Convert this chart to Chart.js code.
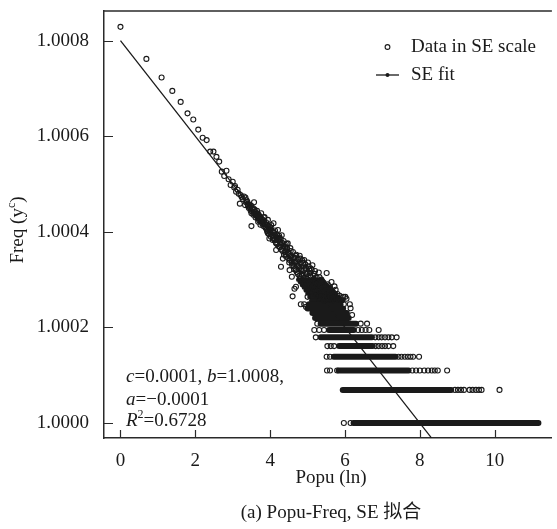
<!DOCTYPE html>
<html>
<head>
<meta charset="utf-8">
<script src="https://cdn.jsdelivr.net/npm/chart.js@4.4.0/dist/chart.umd.min.js"></script>
<style>
  html, body { margin: 0; padding: 0; background: #fff; }
</style>
</head>
<body>
<canvas id="chart" width="557" height="529"></canvas>
<script>
// 刻度
const xTicks = [0, 2, 4, 6, 8, 10];
const yTicks = [1.0000, 1.0002, 1.0004, 1.0006, 1.0008];

// 上部稀疏点 (x = ln)
const topX = [0, 0.693, 1.099, 1.386, 1.609, 1.792, 1.946, 2.079, 2.197, 2.303, 2.398, 2.485, 2.565, 2.639, 2.708, 2.773, 2.833, 2.890, 2.944];
const topY = [1.000829, 1.000762, 1.000723, 1.000695, 1.000672, 1.000648, 1.000635, 1.000614, 1.000597, 1.000592, 1.000568, 1.000568, 1.000557, 1.000547, 1.000526, 1.000517, 1.000528, 1.000510, 1.000498];

// 中部点云 (外缘)
const cloudX = [3.00,3.04,3.06,3.09,3.13,3.16,3.19,3.21,3.24,3.27,
  3.30,3.33,3.34,3.37,3.40,3.43,3.46,3.48,3.50,3.50,
  3.53,3.55,3.57,3.59,3.61,3.63,3.65,3.68,3.70,3.72,
  3.74,3.76,3.78,3.81,3.83,3.85,3.87,3.89,3.91,3.94,
  3.94,3.96,3.98,4.01,4.03,4.05,4.07,4.07,4.09,4.11,
  4.13,4.16,4.16,4.18,4.20,4.21,4.23,4.25,4.27,4.29,
  4.29,4.31,4.33,4.34,4.36,4.38,4.40,4.42,4.44,4.46,
  4.47,4.49,4.50,4.52,4.52,4.54,4.56,4.58,4.58,4.60,
  4.61,4.63,4.65,4.65,4.67,4.69,4.69,4.70,4.72,4.74,
  4.75,4.77,4.79,4.80,4.82,4.82,4.84,4.86,4.87,4.88,
  4.90,4.91,4.91,4.93,4.94,4.96,4.96,4.97,4.99,5.00,
  5.01,5.02,5.04,5.05,5.07,5.09,5.09,5.10,5.12,5.13,
  5.14,5.16,5.18,5.18,5.20,5.22,5.24,5.26,5.26,5.28,
  5.30,5.31,5.33,5.35,5.37,5.38,5.40,5.42,5.44,5.45,
  5.47,5.49,5.51,5.52,5.54,5.56,5.58,5.60,5.62,5.64,
  5.66,5.68,5.70,5.72,5.75,5.77,5.80,5.83,5.86,5.90,
  5.93,5.96,6.01,6.04,6.15,6.19];
const cloudY = [1.000505,1.000493,1.000496,1.000484,1.000488,1.000480,1.000459,1.000477,1.000473,1.000469,
  1.000474,1.000456,1.000472,1.000466,1.000458,1.000450,1.000452,1.000444,1.000439,1.000412,
  1.000447,1.000436,1.000462,1.000442,1.000430,1.000435,1.000444,1.000421,1.000433,1.000427,
  1.000415,1.000439,1.000422,1.000418,1.000430,1.000431,1.000410,1.000420,1.000405,1.000425,
  1.000397,1.000412,1.000386,1.000408,1.000414,1.000393,1.000400,1.000383,1.000418,1.000390,
  1.000403,1.000376,1.000362,1.000395,1.000384,1.000404,1.000370,1.000388,1.000379,1.000372,
  1.000327,1.000393,1.000360,1.000344,1.000381,1.000358,1.000368,1.000352,1.000375,1.000362,
  1.000376,1.000345,1.000356,1.000341,1.000320,1.000366,1.000350,1.000306,1.000335,1.000265,
  1.000358,1.000328,1.000281,1.000346,1.000338,1.000320,1.000285,1.000352,1.000330,1.000312,
  1.000342,1.000324,1.000350,1.000305,1.000302,1.000335,1.000318,1.000340,1.000296,1.000328,
  1.000310,1.000341,1.000320,1.000292,1.000332,1.000288,1.000243,1.000315,1.000302,1.000264,
  1.000336,1.000280,1.000322,1.000295,1.000308,1.000323,1.000306,1.000275,1.000290,1.000330,
  1.000285,1.000300,1.000285,1.000312,1.000270,1.000295,1.000305,1.000267,1.000280,1.000292,
  1.000315,1.000260,1.000275,1.000288,1.000300,1.000265,1.000278,1.000293,1.000257,1.000270,
  1.000284,1.000262,1.000314,1.000277,1.000290,1.000258,1.000270,1.000283,1.000264,1.000295,
  1.000257,1.000274,1.000262,1.000286,1.000279,1.000260,1.000270,1.000258,1.000266,1.000257,
  1.000257,1.000264,1.000264,1.000260,1.000240,1.000226];

// 点云内部 (密集)
const denseX = [3.36,3.39,3.41,3.44,3.47,3.49,3.52,3.54,3.56,3.58,
  3.60,3.62,3.64,3.66,3.67,3.69,3.71,3.73,3.75,3.77,
  3.79,3.80,3.82,3.84,3.86,3.88,3.90,3.92,3.93,3.95,
  3.97,3.99,4.00,4.02,4.04,4.06,4.08,4.10,4.12,4.14,
  4.15,4.17,4.19,4.22,4.24,4.26,4.28,4.30,4.32,4.35,
  4.37,4.39,4.41,4.43,4.45,4.48,4.51,4.53,4.55,4.57,
  4.59,4.62,4.64,4.66,4.68,4.71,4.73,4.76,4.78,4.81,
  4.83,4.85,4.89,4.92,4.95,4.98,5.03,5.06,5.11,5.15,
  5.20,5.25,5.32,5.40];
const denseY = [1.000462,1.000463,1.000455,1.000457,1.000449,1.000455,1.000443,1.000450,1.000440,1.000447,
  1.000437,1.000441,1.000433,1.000438,1.000428,1.000436,1.000424,1.000432,1.000422,1.000428,
  1.000417,1.000425,1.000412,1.000422,1.000416,1.000408,1.000415,1.000401,1.000412,1.000404,
  1.000395,1.000406,1.000398,1.000390,1.000402,1.000394,1.000387,1.000398,1.000383,1.000392,
  1.000378,1.000388,1.000374,1.000382,1.000392,1.000368,1.000385,1.000363,1.000377,1.000370,
  1.000352,1.000374,1.000360,1.000348,1.000367,1.000355,1.000336,1.000349,1.000360,1.000340,
  1.000330,1.000347,1.000322,1.000335,1.000350,1.000316,1.000338,1.000328,1.000308,1.000344,
  1.000322,1.000310,1.000335,1.000304,1.000325,1.000312,1.000328,1.000314,1.000320,1.000308,
  1.000318,1.000298,1.000305,1.000296];

// 低频水平带 (密集段), y = freq^c
const bandY = [1.0000000, 1.0000693, 1.0001099, 1.0001386, 1.0001609, 1.0001792, 1.0001946, 1.0002079, 1.0002197, 1.0002303, 1.0002398, 1.0002485,
  1.0002565, 1.0002639, 1.0002708, 1.0002773, 1.0002833, 1.0002890, 1.0002944, 1.0002996];
const bandStart = [6.23, 5.94, 5.83, 5.70, 5.84, 5.35, 5.57, 5.35, 5.20, 5.13, 5.00, 5.04,
  5.10, 5.05, 5.00, 4.95, 4.90, 4.85, 4.80, 4.75];
const bandEnd = [11.17, 8.84, 7.70, 7.35, 6.74, 6.72, 6.24, 6.30, 6.10, 6.05, 5.95, 5.88,
  5.92, 5.84, 5.76, 5.68, 5.60, 5.52, 5.45, 5.38];
const bandWidth = [6, 6, 6, 6, 6, 6, 6, 6, 6, 6, 6, 6, 4.5, 4.5, 4.5, 4.5, 4.5, 4.5, 4.5, 4.5];

// 带两端的零散点
const looseX = [4.82,4.91,5.97,6.13,
  5.26,6.42,6.59,
  5.18,5.31,5.44,6.35,6.45,6.55,6.65,6.90,
  5.22,6.81,6.90,6.98,7.07,7.16,7.25,7.38,
  5.53,5.62,5.71,6.82,6.90,6.99,7.07,7.16,7.29,
  5.51,5.60,7.43,7.51,7.60,7.68,7.75,7.82,7.98,
  5.52,5.60,5.79,7.80,7.90,8.00,8.12,8.22,8.32,8.40,8.48,8.73,
  8.94,9.02,9.10,9.18,9.33,9.41,9.50,9.58,9.65,10.13,
  5.97,6.15];
const looseY = [1.0002485,1.0002485,1.0002485,1.0002485,
  1.0002079,1.0002079,1.0002079,
  1.0001946,1.0001946,1.0001946,1.0001946,1.0001946,1.0001946,1.0001946,1.0001946,
  1.0001792,1.0001792,1.0001792,1.0001792,1.0001792,1.0001792,1.0001792,1.0001792,
  1.0001609,1.0001609,1.0001609,1.0001609,1.0001609,1.0001609,1.0001609,1.0001609,1.0001609,
  1.0001386,1.0001386,1.0001386,1.0001386,1.0001386,1.0001386,1.0001386,1.0001386,1.0001386,
  1.0001099,1.0001099,1.0001099,1.0001099,1.0001099,1.0001099,1.0001099,1.0001099,1.0001099,1.0001099,1.0001099,1.0001099,
  1.0000693,1.0000693,1.0000693,1.0000693,1.0000693,1.0000693,1.0000693,1.0000693,1.0000693,1.0000693,
  1.0000000,1.0000000];

// SE 拟合线
const fitX = [0, 8.31];
const fitY = [1.0008, 0.999969];

const serif = '"Liberation Serif", "Times New Roman", serif';
const ink = '#1a1a1a';
const axisColor = '#2a2a2a';

Chart.defaults.font.family = serif;
Chart.defaults.font.size = 19;
Chart.defaults.color = ink;

const toPoints = (xs, ys) => xs.map((v, i) => ({ x: v, y: ys[i] }));

const pointStyle = {
  type: 'scatter',
  pointRadius: 2.5,
  pointBorderWidth: 1.1,
  pointBorderColor: ink,
  pointBackgroundColor: 'rgba(0,0,0,0)',
  showLine: false
};

const datasets = [
  {
    type: 'line',
    label: 'SE fit',
    data: toPoints(fitX, fitY),
    borderColor: ink,
    borderWidth: 1.3,
    pointRadius: 0,
    fill: false,
    tension: 0
  },
  Object.assign({ label: 'Data in SE scale', data: toPoints(topX, topY) }, pointStyle),
  Object.assign({ label: 'cloud', data: toPoints(cloudX, cloudY) }, pointStyle),
  Object.assign({ label: 'dense', data: toPoints(denseX, denseY) }, pointStyle),
  Object.assign({ label: 'loose', data: toPoints(looseX, looseY) }, pointStyle)
];

bandY.forEach((lv, i) => {
  datasets.push({
    type: 'line',
    label: 'band' + i,
    data: [{ x: bandStart[i], y: lv }, { x: bandEnd[i], y: lv }],
    borderColor: ink,
    borderWidth: bandWidth[i],
    borderCapStyle: 'round',
    pointRadius: 0,
    fill: false
  });
});

// 多段文字 (斜体/上标)
function drawRuns(ctx, runs, x, y) {
  runs.forEach(r => {
    const size = r.sup ? 12 : 19;
    ctx.font = (r.it ? 'italic ' : '') + size + 'px ' + serif;
    ctx.fillText(r.t, x, r.sup ? y - 6 : y);
    x += ctx.measureText(r.t).width;
  });
  return x;
}
function runsWidth(ctx, runs) {
  let w = 0;
  runs.forEach(r => {
    ctx.font = (r.it ? 'italic ' : '') + (r.sup ? 12 : 19) + 'px ' + serif;
    w += ctx.measureText(r.t).width;
  });
  return w;
}

const decorPlugin = {
  id: 'decor',
  afterDraw(chart) {
    const { ctx, chartArea: a, scales } = chart;
    const sx = scales.x, sy = scales.y;
    ctx.save();
    // 顶边框
    ctx.strokeStyle = axisColor;
    ctx.lineWidth = 1.5;
    ctx.beginPath();
    ctx.moveTo(a.left, a.top);
    ctx.lineTo(a.right, a.top);
    ctx.stroke();
    // 内向刻度线
    ctx.lineWidth = 1.2;
    ctx.beginPath();
    xTicks.forEach(v => {
      const px = Math.round(sx.getPixelForValue(v)) + 0.5;
      ctx.moveTo(px, a.bottom);
      ctx.lineTo(px, a.bottom - 8);
    });
    yTicks.forEach(v => {
      const py = Math.round(sy.getPixelForValue(v)) + 0.5;
      ctx.moveTo(a.left, py);
      ctx.lineTo(a.left + 9, py);
    });
    ctx.stroke();

    ctx.fillStyle = ink;
    ctx.textBaseline = 'middle';
    ctx.textAlign = 'left';

    // 图例
    ctx.strokeStyle = ink;
    ctx.lineWidth = 1.1;
    ctx.beginPath();
    ctx.arc(387.5, 47, 2.4, 0, Math.PI * 2);
    ctx.stroke();
    ctx.lineWidth = 1.3;
    ctx.beginPath();
    ctx.moveTo(376, 75);
    ctx.lineTo(399, 75);
    ctx.stroke();
    ctx.beginPath();
    ctx.arc(387.5, 75, 2, 0, Math.PI * 2);
    ctx.fill();
    ctx.font = '19px ' + serif;
    ctx.fillText(chart.data.datasets[1].label, 411, 47);
    ctx.fillText(chart.data.datasets[0].label, 411, 75);

    // 参数注释
    drawRuns(ctx, [{ t: 'c', it: true }, { t: '=0.0001, ' }, { t: 'b', it: true }, { t: '=1.0008,' }], 126, 377);
    drawRuns(ctx, [{ t: 'a', it: true }, { t: '=\u22120.0001' }], 126, 400);
    drawRuns(ctx, [{ t: 'R', it: true }, { t: '2', sup: true }, { t: '=0.6728' }], 126, 421);

    // 坐标轴标题
    ctx.textAlign = 'center';
    ctx.font = '19px ' + serif;
    ctx.fillText('Popu (ln)', 331, 478);
    ctx.font = '19px "Liberation Serif", "Noto Sans CJK SC", serif';
    ctx.fillText('(a) Popu-Freq, SE 拟合', 331, 513);

    ctx.textAlign = 'left';
    ctx.translate(18, 230);
    ctx.rotate(-Math.PI / 2);
    const yRuns = [{ t: 'Freq (y' }, { t: 'c', sup: true }, { t: ')' }];
    drawRuns(ctx, yRuns, -runsWidth(ctx, yRuns) / 2, 0);
    ctx.restore();
  }
};

const noPad = s => { s.paddingTop = 0; s.paddingBottom = 0; s.paddingLeft = 0; s.paddingRight = 0; };

new Chart(document.getElementById('chart'), {
  type: 'scatter',
  data: { datasets },
  options: {
    responsive: false,
    animation: false,
    devicePixelRatio: 1,
    events: [],
    layout: { padding: { top: 11, right: 0, left: 0, bottom: 0 } },
    plugins: {
      legend: { display: false },
      tooltip: { enabled: false }
    },
    scales: {
      x: {
        type: 'linear',
        min: -0.44,
        max: 11.53,
        afterBuildTicks: s => { s.ticks = xTicks.map(v => ({ value: v })); },
        afterFit: s => { s.height = 91; noPad(s); },
        ticks: { padding: 12, maxRotation: 0, callback: v => String(v) },
        grid: { display: false, drawTicks: false },
        border: { display: true, color: axisColor, width: 1.5 }
      },
      y: {
        type: 'linear',
        min: 0.9999686,
        max: 1.0008622,
        afterBuildTicks: s => { s.ticks = yTicks.map(v => ({ value: v })); },
        afterFit: s => { s.width = 104; noPad(s); },
        ticks: { padding: 15, callback: v => v.toFixed(4) },
        grid: { display: false, drawTicks: false },
        border: { display: true, color: axisColor, width: 1.5 }
      }
    }
  },
  plugins: [decorPlugin]
});
</script>
</body>
</html>
